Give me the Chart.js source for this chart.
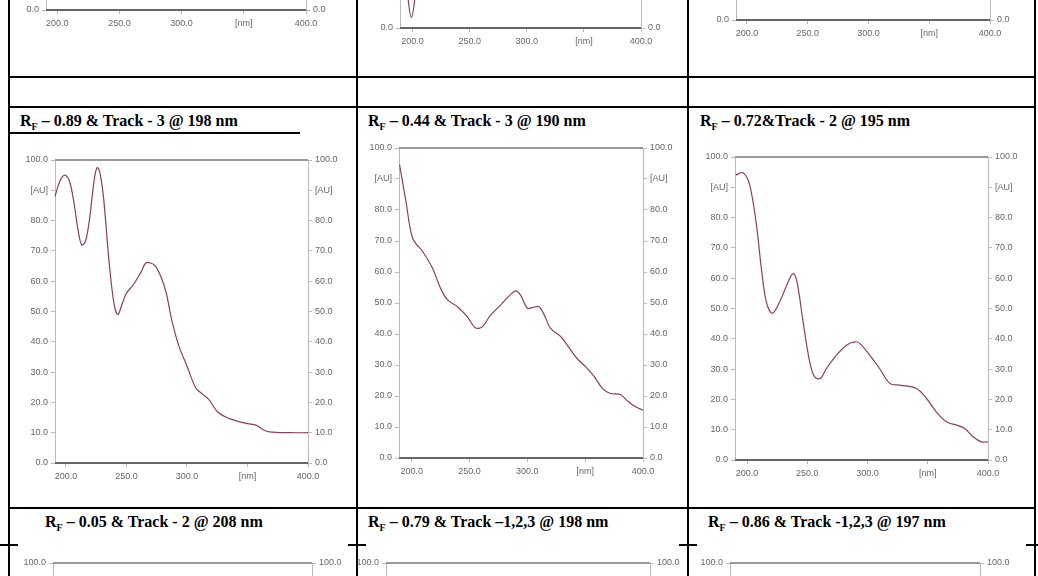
<!DOCTYPE html>
<html><head><meta charset="utf-8">
<script src="https://cdn.jsdelivr.net/npm/chart.js@4/dist/chart.umd.min.js"></script>
<style>
body{margin:0;width:1038px;height:576px;overflow:hidden;background:#fff;position:relative;font-family:"Liberation Serif",serif}
.ln{position:absolute;background:#000}
.hd{position:absolute;font-weight:bold;font-size:16px;white-space:nowrap}
.hd sub{font-size:10px}
.box{position:absolute}
</style></head><body>
<script>
// ---- data ----
const mid1X=[191,195,199,203,207,210,213,216,219,222,224,226,228,231,236,240,243,246,250,256,262,266,270,274,279,283,287,293,300,307,312,318,325,333,340,350,357,363,368,385,400];
const mid1Y=[88,93,95,93,85,77,72,73,79,89,95,97.5,96,88,65,52,49,52,56,59,63,66,66,65,61,56,48,39,32,25,23,21,17,15,14,13,12.5,11,10.3,10,10];
const mid2X=[189.5,195,200.8,209.4,218,225,231,239.6,248,255,261,268,277,285.6,290,294,300,304,310,316,320,329,334.5,343,350.5,358,365,372,380.5,386,393.5,400];
const mid2Y=[94.6,82.8,70.9,66.6,61.2,54.7,51,48.8,45.6,42,42.3,46,49.4,52.8,53.9,52.6,48.3,48.5,48.8,45,41.8,39.1,36.4,32.1,29.4,26.2,22.4,20.8,20.5,18.6,16.5,15.4];
const mid3X=[190.6,196.7,202.2,207.8,211.9,216,221,227.1,234,238.2,241.5,246.5,252,256,260.9,265.9,274.2,282.5,289.4,293.5,301.8,310,318.5,326.8,340.6,349,357,365.5,374,380.7,387.6,394.5,400];
const mid3Y=[94,94.8,90.7,77.5,63.2,52.2,48.4,52.2,58.7,61.5,58.7,45.6,32.4,27.5,26.9,30.2,34.6,37.9,39,38.5,34.6,30.2,25.3,24.7,23.6,20.3,15.9,12.6,11.5,10.4,7.7,6,6];
const top2X=[193,196,199,202,205];
const top2Y=[25,10,3.5,10,25];
const xTicks=[200,250,300,350,400];
const yTicks=[0,10,20,30,40,50,60,70,80,90,100];
const headers=[
 ['0.89 & Track - 3 @ 198 nm',20,112],['0.44 & Track - 3 @ 190 nm',368,112],['0.72&Track - 2 @ 195 nm',700,112],
 ['0.05 & Track - 2 @ 208 nm',45,513],['0.79 & Track –1,2,3 @ 198 nm',368,513],['0.86 & Track -1,2,3 @ 197 nm',708,513]];

function line(x,y,w,h){const d=document.createElement('div');d.className='ln';Object.assign(d.style,{left:x+'px',top:y+'px',width:w+'px',height:h+'px'});document.body.appendChild(d);}
[8,356,687,1034].forEach(x=>line(x,0,2,576));
line(8,76,1028,2);line(8,106,1028,2);line(8,132,292,2);line(8,507,1028,2);
[8,356,687,1034].forEach(x=>line(x-8,544,18,2));
headers.forEach(h=>{const d=document.createElement('div');d.className='hd';d.style.left=h[1]+'px';d.style.top=h[2]+'px';d.innerHTML='R<sub>F</sub> – '+h[0];document.body.appendChild(d);});

const frame={id:'frame',afterDraw(c){const a=c.chartArea,g=c.ctx;g.save();g.strokeStyle='#999';g.lineWidth=2;g.beginPath();g.moveTo(a.left,a.top);g.lineTo(a.right,a.top);g.stroke();g.strokeStyle='#666';g.beginPath();g.moveTo(a.left,a.bottom);g.lineTo(a.right,a.bottom);g.stroke();g.restore();}};

function make(pl,pt,pr,pb,xmin,xs,ys){
 const L=48,T=10,B=34;
 const d=document.createElement('div');d.className='box';
 Object.assign(d.style,{left:(pl-L)+'px',top:(pt-T)+'px',width:(pr-pl+2*L)+'px',height:(pb-pt+T+B)+'px'});
 const cv=document.createElement('canvas');d.appendChild(cv);document.body.appendChild(d);
 const font={family:'"Liberation Sans Narrow","Liberation Sans",sans-serif',size:9};
 const yax=(pos)=>({type:'linear',position:pos,min:0,max:100,
   afterBuildTicks:s=>{s.ticks=yTicks.map(v=>({value:v}));},
   afterFit:s=>{s.width=L;},
   ticks:{font,color:'#666',padding:3,callback:v=>v===90?'[AU]':v.toFixed(1)},
   grid:{drawOnChartArea:false,tickLength:4,color:'#bbb'},border:{color:'#bbb',width:1}});
 new Chart(cv,{type:'line',
  data:{datasets:[{data:xs.map((x,i)=>({x,y:ys[i]})),borderColor:'#8c3d63',borderWidth:1.2,pointRadius:0,tension:0.35}]},
  options:{responsive:true,maintainAspectRatio:false,animation:false,events:[],clip:false,
   layout:{padding:{top:T,left:0,right:0,bottom:0}},
   plugins:{legend:{display:false},tooltip:{enabled:false}},
   scales:{
    x:{type:'linear',min:xmin,max:400,afterBuildTicks:s=>{s.ticks=xTicks.map(v=>({value:v}));},
       afterFit:s=>{s.height=B;},
       ticks:{font,color:'#666',padding:4,autoSkip:false,maxRotation:0,callback:v=>v===350?'[nm]':v.toFixed(1)},
       grid:{drawOnChartArea:false,tickLength:4,color:'#bbb'},border:{display:false}},
    y:yax('left'),y2:yax('right')}},
  plugins:[frame]});
}
// top row (partially visible)
make(46,-290,306,10,191,[],[]);
make(400,-276,641,28,189,top2X,top2Y);
make(736,-284,990,20,191,[],[]);
// middle row
make(55,160,308,463,191,mid1X,mid1Y);
make(399,148,643,458,189,mid2X,mid2Y);
make(735,157,988,460,190,mid3X,mid3Y);
// bottom row (only top visible)
make(53,563,312,866,191,[],[]);
make(386,563,650,866,191,[],[]);
make(730,563,980,866,191,[],[]);
</script>
</body></html>
